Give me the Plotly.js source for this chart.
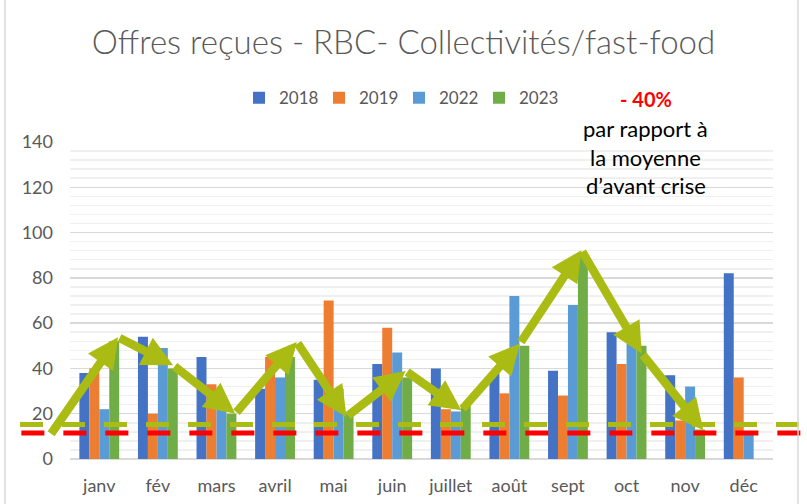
<!DOCTYPE html>
<html>
<head>
<meta charset="utf-8">
<script src="https://cdn.plot.ly/plotly-3.0.1.min.js"></script>
<style>html,body{margin:0;padding:0;background:#fff;}#chart{width:807px;height:504px;}</style>
</head>
<body>
<div id="chart"></div>
<script>
// ---- data ----
const months = ["janv","fév","mars","avril","mai","juin","juillet","août","sept","oct","nov","déc"];
const years = ["2018","2019","2022","2023"];
const v2018 = [38, 54, 45, 31, 35, 42, 40, 38, 39, 56, 37, 82];
const v2019 = [40, 20, 33, 45, 70, 58, 22, 29, 28, 42, 17, 36];
const v2022 = [22, 49, 22, 36, 31, 47, 21, 72, 68, 51, 32, 11];
const v2023 = [52, 40, 20, 45, 20, 36, 24, 50, 91, 50, 13, null];
// trend arrow path (category index, value)
const arrowX = [-0.84, 0.32, 1.26, 2.32, 3.37, 4.22, 5.23, 6.18, 7.18, 8.23, 9.26, 10.31];
const arrowY = [10.5, 53.8, 41.4, 20.0, 51.7, 18.6, 38.9, 21.5, 51.0, 92.2, 46.6, 12.7];
// reference levels
const levelGreen = 15.2;
const levelRed = 11.5;
const noteHead = "- 40%";
const noteLines = ["par rapport à", "la moyenne", "d\u2019avant crise"];
const noteY = [1.1347, 1.0432, 0.9518, 0.8635];

const colors = ["#4472C4", "#ED7D31", "#5B9BD5", "#70AD47"];
const series = [v2018, v2019, v2022, v2023];
const FONT = "Lato, 'Open Sans', sans-serif";

const traces = series.map((vals, i) => ({
  type: "bar",
  name: years[i],
  x: months,
  y: vals,
  marker: {color: colors[i]},
  hoverinfo: "x+y+name"
}));

const annotations = [];
for (let i = 1; i < arrowX.length; i++) {
  annotations.push({
    xref: "x", yref: "y", axref: "x", ayref: "y",
    x: arrowX[i], y: arrowY[i], ax: arrowX[i-1], ay: arrowY[i-1],
    text: "", showarrow: true, arrowhead: 2, arrowsize: 0.72, arrowwidth: 8.5,
    arrowcolor: "#AABC14", standoff: 0, startstandoff: 0
  });
}
annotations.push({
  xref: "paper", yref: "paper", x: 0.819, y: noteY[0], text: "<b>" + noteHead + "</b>",
  showarrow: false, font: {family: FONT, size: 20, color: "#FF0000"}, xanchor: "center", yanchor: "middle"
});
noteLines.forEach((t, i) => annotations.push({
  xref: "paper", yref: "paper", x: 0.819, y: noteY[i+1], text: t,
  showarrow: false, font: {family: FONT, size: 22, color: "#000000"}, xanchor: "center", yanchor: "middle"
}));

const shapes = [
  {type: "line", xref: "paper", yref: "y", x0: -0.0711, x1: 1.06, y0: levelGreen, y1: levelGreen,
   line: {color: "#AABC14", width: 5, dash: "23px,19px"}},
  {type: "line", xref: "paper", yref: "y", x0: -0.0692, x1: 1.06, y0: levelRed, y1: levelRed,
   line: {color: "#FF0000", width: 5, dash: "23px,19px"}},
  {type: "line", xref: "paper", yref: "paper", x0: -0.0925, x1: -0.0925, y0: -0.3, y1: 1.6,
   line: {color: "#D9D9D9", width: 1.5}},
  {type: "line", xref: "paper", yref: "paper", x0: 1.0356, x1: 1.0356, y0: -0.3, y1: 1.6,
   line: {color: "#D9D9D9", width: 1.5}}
];

const layout = {
  width: 807, height: 504,
  margin: {l: 70, r: 34, t: 142, b: 45, pad: 0},
  paper_bgcolor: "#ffffff", plot_bgcolor: "#ffffff",
  font: {family: FONT, color: "#595959"},
  title: {text: "Offres reçues - RBC- Collectivités/fast-food",
          font: {family: FONT, size: 33, weight: 300, color: "#595959"},
          x: 0.5, xanchor: "center", y: 0.915, yanchor: "middle", xref: "container"},
  barmode: "group", bargap: 0.32, bargroupgap: 0,
  showlegend: true,
  legend: {orientation: "h", x: 0.468, xanchor: "center", y: 1.138, yanchor: "middle",
           font: {family: FONT, size: 17, color: "#595959"}, itemwidth: 30, traceorder: "normal",
           entrywidth: 35, entrywidthmode: "pixels"},
  xaxis: {type: "category", range: [-0.5, 11.5], showgrid: false, zeroline: false,
          showline: false, ticks: "", tickfont: {family: FONT, size: 18, color: "#595959"},
          ticklabelstandoff: 14, fixedrange: true},
  yaxis: {range: [0, 140], dtick: 20, tick0: 0, showgrid: true, gridcolor: "#D9D9D9", gridwidth: 1.5,
          zeroline: true, zerolinecolor: "#D9D9D9", zerolinewidth: 1.5, showline: false, ticks: "",
          tickfont: {family: FONT, size: 18, color: "#595959"}, ticklabelstandoff: 16,
          minor: {dtick: 4, tick0: 0, showgrid: true, gridcolor: "#F0F0F0", gridwidth: 1.5},
          fixedrange: true},
  annotations: annotations,
  shapes: shapes
};

Plotly.newPlot("chart", traces, layout, {displayModeBar: false, staticPlot: true});
</script>
</body>
</html>
